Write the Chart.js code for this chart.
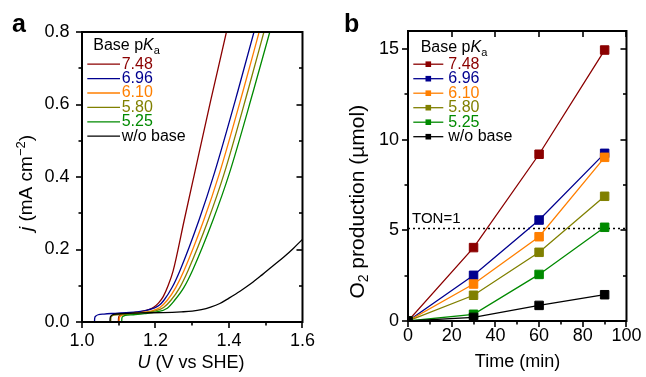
<!DOCTYPE html>
<html><head><meta charset="utf-8">
<script src="https://cdn.jsdelivr.net/npm/chart.js@4.4.1/dist/chart.umd.min.js"></script>
<style>
html,body{margin:0;padding:0;background:#fff;}
#wrap{position:relative;width:646px;height:377px;overflow:hidden;}
#a{position:absolute;left:0;top:0;}
#b{position:absolute;left:323px;top:0;}
</style></head><body>
<div id="wrap">
<canvas id="a" width="323" height="377"></canvas>
<canvas id="b" width="323" height="377"></canvas>
</div>
<script>
const FF = '"Liberation Sans", Arial, Helvetica, sans-serif';
const seriesLabels = ['7.48', '6.96', '6.10', '5.80', '5.25', 'w/o base'];
const seriesColors = ['#8b0000', '#00008f', '#ff7f00', '#808000', '#008a00', '#000000'];

// Panel a: LSV curves, U (V vs SHE) and j (mA cm-2)
const uA748 = [1.099, 1.0995, 1.102, 1.108, 1.125, 1.15, 1.175, 1.194, 1.208, 1.221, 1.235, 1.248, 1.278, 1.305, 1.35, 1.393, 1.41];
const jA748 = [0, 0.011, 0.017, 0.020, 0.023, 0.027, 0.032, 0.040, 0.052, 0.070, 0.102, 0.141, 0.280, 0.404, 0.610, 0.800, 0.880];
const uA696 = [1.034, 1.0345, 1.037, 1.044, 1.06, 1.09, 1.12, 1.15, 1.175, 1.195, 1.21, 1.223, 1.245, 1.267, 1.318, 1.36, 1.425, 1.468, 1.485];
const jA696 = [0, 0.010, 0.016, 0.020, 0.022, 0.024, 0.026, 0.028, 0.032, 0.038, 0.046, 0.060, 0.095, 0.143, 0.280, 0.410, 0.640, 0.800, 0.865];
const uA610 = [1.101, 1.1015, 1.104, 1.11, 1.13, 1.16, 1.19, 1.212, 1.232, 1.255, 1.278, 1.331, 1.374, 1.439, 1.482, 1.50];
const jA610 = [0, 0.010, 0.016, 0.019, 0.022, 0.026, 0.031, 0.040, 0.060, 0.095, 0.143, 0.280, 0.410, 0.640, 0.800, 0.867];
const uA580 = [1.078, 1.0785, 1.081, 1.088, 1.11, 1.14, 1.17, 1.20, 1.222, 1.242, 1.266, 1.289, 1.343, 1.387, 1.452, 1.495, 1.513];
const jA580 = [0, 0.010, 0.016, 0.019, 0.021, 0.023, 0.026, 0.031, 0.040, 0.060, 0.095, 0.143, 0.280, 0.410, 0.640, 0.800, 0.867];
const uA525 = [1.108, 1.1085, 1.111, 1.118, 1.14, 1.17, 1.20, 1.232, 1.252, 1.277, 1.301, 1.356, 1.401, 1.467, 1.511, 1.53];
const jA525 = [0, 0.010, 0.015, 0.018, 0.020, 0.023, 0.027, 0.038, 0.060, 0.095, 0.143, 0.280, 0.410, 0.640, 0.800, 0.870];
const uAwo = [1.076, 1.0765, 1.079, 1.086, 1.11, 1.16, 1.22, 1.27, 1.30, 1.325, 1.35, 1.375, 1.40, 1.43, 1.46, 1.49, 1.52, 1.55, 1.575, 1.60];
const jAwo = [0, 0.010, 0.017, 0.021, 0.023, 0.025, 0.026, 0.028, 0.030, 0.034, 0.041, 0.051, 0.066, 0.085, 0.106, 0.130, 0.155, 0.180, 0.203, 0.228];
const uA = [uA748, uA696, uA610, uA580, uA525, uAwo];
const jA = [jA748, jA696, jA610, jA580, jA525, jAwo];
const xTicksA = [1.0, 1.2, 1.4, 1.6], xMinorA = [1.1, 1.3, 1.5];
const yTicksA = [0, 0.2, 0.4, 0.6, 0.8], yMinorA = [0.1, 0.3, 0.5, 0.7];

// Panel b: O2 production (umol) vs time (min)
const timeMin = [0, 30, 60, 90];
const o2_748 = [0, 4.05, 9.2, 14.95];
const o2_696 = [0, 2.52, 5.57, 9.25];
const o2_610 = [0, 2.04, 4.65, 9.03];
const o2_580 = [0, 1.42, 3.79, 6.88];
const o2_525 = [0, 0.37, 2.57, 5.17];
const o2_wo  = [0, 0.2, 0.86, 1.45];
const o2B = [o2_748, o2_696, o2_610, o2_580, o2_525, o2_wo];
const tonLevel = 5.1;
const xTicksB = [0, 20, 40, 60, 80, 100], xMinorB = [10, 30, 50, 70, 90];
const yTicksB = [0, 5, 10, 15], yMinorB = [2.5, 7.5, 12.5];

function drawRich(ctx, parts, x, y, align) {
  let w = 0;
  for (const p of parts) { ctx.font = p.font; w += ctx.measureText(p.t).width; }
  let cx = align === 'center' ? x - w / 2 : x;
  for (const p of parts) {
    ctx.font = p.font;
    ctx.fillText(p.t, cx, y + (p.dy || 0));
    cx += ctx.measureText(p.t).width;
  }
}

function deco(cfg) {
  return {
    id: 'deco' + cfg.name,
    afterDraw(chart) {
      const ctx = chart.ctx, ca = chart.chartArea;
      const xs = chart.scales.x, ys = chart.scales.y;
      ctx.save();
      ctx.strokeStyle = '#000'; ctx.lineWidth = 2;
      ctx.strokeRect(ca.left, ca.top, ca.right - ca.left, ca.bottom - ca.top);
      ctx.lineWidth = 1.6;
      const ML = 6, ml = 3.5;
      const tick = (x0, y0, x1, y1) => { ctx.beginPath(); ctx.moveTo(x0, y0); ctx.lineTo(x1, y1); ctx.stroke(); };
      const xt = (vals, len, top) => vals.forEach(v => {
        const p = Math.round(xs.getPixelForValue(v));
        tick(p, ca.bottom, p, ca.bottom + len);
        if (top) tick(p, ca.top, p, ca.top + len);
      });
      const yt = (vals, len) => vals.forEach(v => {
        const p = Math.round(ys.getPixelForValue(v));
        tick(ca.left - len, p, ca.left, p);
        tick(ca.right - len, p, ca.right, p);
      });
      xt(cfg.xMaj, ML, cfg.topTicks); xt(cfg.xMin, ml, false);
      yt(cfg.yMaj, ML); yt(cfg.yMin, ml);
      ctx.fillStyle = '#000';
      ctx.textBaseline = 'alphabetic'; ctx.textAlign = 'left';
      ctx.font = 'bold 25px ' + FF;
      ctx.fillText(cfg.letter, cfg.letterX, cfg.letterY);
      drawRich(ctx, cfg.xTitle, cfg.xTitleX, cfg.xTitleY, 'center');
      ctx.save();
      ctx.translate(cfg.yTitleX, cfg.yTitleY);
      ctx.rotate(-Math.PI / 2);
      drawRich(ctx, cfg.yTitle, 0, 0, 'center');
      ctx.restore();
      const L = cfg.legend;
      ctx.fillStyle = '#000';
      drawRich(ctx, [
        { t: 'Base p', font: '16px ' + FF },
        { t: 'K', font: 'italic 16px ' + FF },
        { t: 'a', font: '11px ' + FF, dy: 4 }
      ], L.titleX, L.titleY, 'left');
      for (let i = 0; i < seriesLabels.length; i++) {
        const y = L.y0 + i * L.dy;
        ctx.strokeStyle = seriesColors[i]; ctx.lineWidth = 1.3;
        tick(L.x0, y, L.x1, y);
        if (L.markX) {
          ctx.fillStyle = seriesColors[i];
          ctx.fillRect(L.markX - 2.8, y - 2.8, 5.6, 5.6);
        }
        ctx.fillStyle = seriesColors[i];
        ctx.font = '16px ' + FF; ctx.textBaseline = 'middle';
        ctx.fillText(seriesLabels[i], L.textX, y);
        ctx.textBaseline = 'alphabetic';
      }
      if (cfg.ton) {
        ctx.fillStyle = '#000';
        ctx.font = '15px ' + FF;
        ctx.fillText('TON=1', xs.getPixelForValue(0) + 4, ys.getPixelForValue(tonLevel) - 5.5);
      }
      ctx.restore();
    }
  };
}

function scaleOpts(min, max, ticks, fmt, pad, fit) {
  return {
    type: 'linear', min: min, max: max,
    afterBuildTicks: s => { s.ticks = ticks.map(v => ({ value: v })); },
    afterFit: fit,
    grid: { display: false, drawTicks: false },
    border: { display: false },
    ticks: { padding: pad, font: { family: FF, size: 18 }, color: '#000', callback: fmt, maxRotation: 0, autoSkip: false }
  };
}

new Chart(document.getElementById('a'), {
  type: 'line',
  data: {
    datasets: seriesLabels.map((lab, i) => ({
      label: lab,
      data: uA[i].map((u, k) => ({ x: u, y: jA[i][k] })),
      borderColor: seriesColors[i], borderWidth: 1.3, pointRadius: 0,
      cubicInterpolationMode: 'monotone', fill: false, order: 10 - i
    }))
  },
  options: {
    responsive: false, animation: false, devicePixelRatio: 1,
    layout: { padding: { left: 0, right: 20, top: 32, bottom: 0 } },
    plugins: { legend: { display: false }, tooltip: { enabled: false } },
    scales: {
      x: scaleOpts(1.0, 1.6, xTicksA, v => v.toFixed(1), 8, s => { s.height = 55; }),
      y: scaleOpts(0, 0.8, yTicksA, v => v.toFixed(1), 12.5, s => { s.width = 82; })
    }
  },
  plugins: [deco({
    name: 'a', letter: 'a', letterX: 12, letterY: 31.5,
    xMaj: xTicksA, xMin: xMinorA, yMaj: yTicksA, yMin: yMinorA, topTicks: false,
    xTitle: [{ t: 'U', font: 'italic 18px ' + FF }, { t: ' (V vs SHE)', font: '18px ' + FF }],
    xTitleX: 191, xTitleY: 368,
    yTitle: [{ t: 'j', font: 'italic 19px ' + FF }, { t: ' (mA cm', font: '19px ' + FF },
             { t: '\u22122', font: '13px ' + FF, dy: -7 }, { t: ')', font: '19px ' + FF }],
    yTitleX: 32.3, yTitleY: 183,
    legend: { titleX: 93.3, titleY: 50, x0: 87.3, x1: 120, markX: null, textX: 121.7, y0: 64.2, dy: 14.4 },
    ton: false
  })]
});

const dsB = seriesLabels.map((lab, i) => ({
  label: lab,
  data: timeMin.map((t, k) => ({ x: t, y: o2B[i][k] })),
  borderColor: seriesColors[i], borderWidth: 1.3,
  pointStyle: 'rect', pointRadius: 6, pointBorderWidth: 1,
  pointBackgroundColor: seriesColors[i], pointBorderColor: seriesColors[i],
  tension: 0, fill: false, order: 10 - i
}));
dsB.push({
  label: 'TON=1', data: [{ x: 0, y: tonLevel }, { x: 100, y: tonLevel }],
  borderColor: '#000', borderWidth: 1.5, borderDash: [2, 3], pointRadius: 0, fill: false, order: 20
});

new Chart(document.getElementById('b'), {
  type: 'line',
  data: { datasets: dsB },
  options: {
    responsive: false, animation: false, devicePixelRatio: 1,
    layout: { padding: { left: 0, right: 17, top: 31, bottom: 0 } },
    plugins: { legend: { display: false }, tooltip: { enabled: false } },
    scales: {
      x: scaleOpts(0, 100, xTicksB, v => String(v), 4.5, s => { s.height = 56; }),
      y: scaleOpts(0, 16, yTicksB, v => String(v), 9, s => { s.width = 85; })
    }
  },
  plugins: [deco({
    name: 'b', letter: 'b', letterX: 21, letterY: 31.5,
    xMaj: xTicksB, xMin: xMinorB, yMaj: yTicksB, yMin: yMinorB, topTicks: true,
    xTitle: [{ t: 'Time (min)', font: '18px ' + FF }],
    xTitleX: 194.5, xTitleY: 366.5,
    yTitle: [{ t: 'O', font: '21px ' + FF }, { t: '2', font: '14px ' + FF, dy: 4 },
             { t: ' production (\u00b5mol)', font: '21px ' + FF }],
    yTitleX: 40.6, yTitleY: 201.7,
    legend: { titleX: 97.7, titleY: 51.5, x0: 90.3, x1: 120.3, markX: 105.3, textX: 125.3, y0: 64.2, dy: 14.5 },
    ton: true
  })]
});
</script>
</body></html>
